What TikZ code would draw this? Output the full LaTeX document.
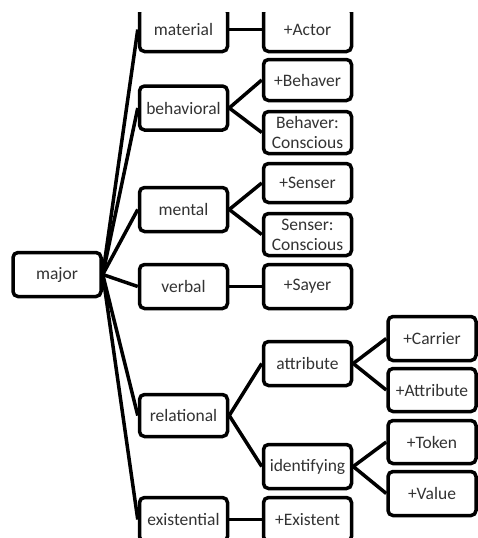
\documentclass[tikz,border=0pt]{standalone}
\usepackage{fontspec}
\setmainfont{Carlito}
\tikzset{
  box/.style={draw=black, line width=3.5pt, rounded corners=5pt, fill=white,
    minimum width=88pt, minimum height=44pt, inner sep=1pt, align=center,
    text=black!80, font=\fontsize{17.5}{20}\selectfont},
  link/.style={line width=3.5pt, black},
}
\begin{document}
\begin{tikzpicture}[x=1pt, y=-1pt]
  \useasboundingbox (0,0) rectangle (478,538);
  \clip (0,12) rectangle (478,538);

  % racine
  \node[box] (major) at (57,274.5) {major};

  % types de proces
  \node[box] (material)    at (183.5,29.5)  {material};
  \node[box] (behavioral)  at (183.5,108)   {behavioral};
  \node[box] (mental)      at (183.5,209.5) {mental};
  \node[box] (verbal)      at (183.5,286.5) {verbal};
  \node[box, minimum height=42pt] (relational) at (183.5,415.5) {relational};
  \node[box] (existential) at (183.5,519.5) {existential};

  % participants
  \node[box] (actor)    at (307.5,29.5)  {+Actor};
  \node[box, minimum height=41pt] (behaver)  at (307.5,80)    {+Behaver};
  \node[box, minimum height=42pt] (behaverC) at (307.5,132.5) {Behaver:\\Conscious};
  \node[box, minimum height=39pt] (senser)   at (307.5,183)   {+Senser};
  \node[box, minimum height=42pt] (senserC)  at (307.5,234.5) {Senser:\\Conscious};
  \node[box] (sayer)     at (307.5,286.5) {+Sayer};
  \node[box] (attribute) at (307.5,363.5) {attribute};
  \node[box] (identif)   at (307.5,466.5) {identifying};
  \node[box] (existent)  at (307.5,519.5) {+Existent};

  % relationnel
  \node[box] (carrier)  at (432,338.5) {+Carrier};
  \node[box, minimum height=43pt] (attrib) at (432,390)   {+Attribute};
  \node[box, minimum height=43pt] (token)  at (432,442)   {+Token};
  \node[box] (value)    at (432,493.5) {+Value};

  % liens
  \foreach \c in {material,behavioral,mental,verbal,relational,existential}
    \draw[link] (major.east) -- (\c.west);
  \draw[link] (material.east) -- (actor.west);
  \draw[link] (verbal.east) -- (sayer.west);
  \draw[link] (existential.east) -- (existent.west);
  \foreach \p/\a/\b in {behavioral/behaver/behaverC, mental/senser/senserC,
      relational/attribute/identif, attribute/carrier/attrib, identif/token/value} {
    \draw[link] (\p.east) -- (\a.west);
    \draw[link] (\p.east) -- (\b.west);
  }
\end{tikzpicture}
\end{document}
